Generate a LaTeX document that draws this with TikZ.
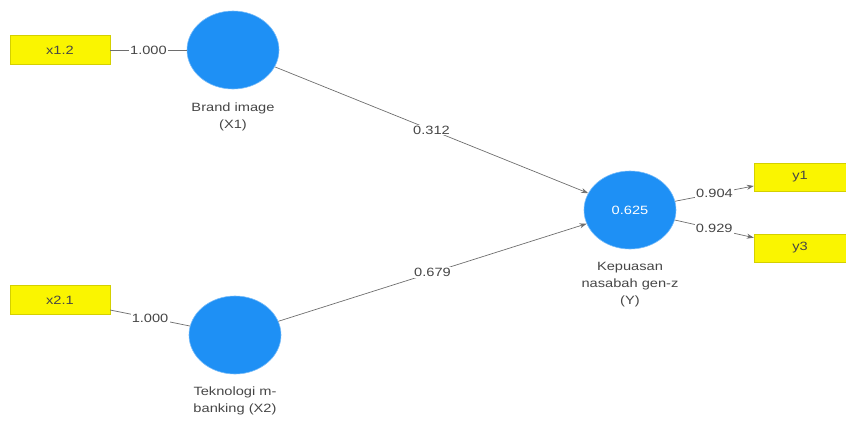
\documentclass[tikz,border=0pt]{standalone}
\usepackage{fontspec}
\setmainfont{Liberation Sans}[FakeStretch=1.22]
\usetikzlibrary{shapes.geometric,arrows.meta}
\definecolor{lvblue}{RGB}{30,144,245}
\definecolor{indyellow}{RGB}{250,245,0}
\definecolor{edgegray}{RGB}{110,110,110}
\definecolor{txtgray}{RGB}{70,70,70}
\begin{document}
\begin{tikzpicture}[x=1pt,y=-1pt,
  every node/.style={font=\fontsize{12}{14}\selectfont, text=txtgray},
  latent/.style={ellipse, fill=lvblue, draw=lvblue!60, line width=0.6pt, minimum width=92pt, minimum height=78pt, inner sep=0pt},
  indicator/.style={rectangle, fill=indyellow, draw=indyellow!85!black, line width=0.4pt, minimum width=100pt, minimum height=29pt, inner sep=0pt},
  ylabel/.style={align=center, font=\fontsize{12}{17}\selectfont},
  conn/.style={draw=edgegray, line width=0.7pt},
  arr/.style={conn, -{Stealth[length=7pt,width=5pt]}, shorten >=0pt},
  wlab/.style={fill=white, inner sep=1.2pt, text=txtgray}
]
\useasboundingbox (0,0) rectangle (846,421);

% indicators
\node[indicator] (x12) at (60,50) {x1.2};
\node[indicator] (x21) at (60,300) {x2.1};
\node[indicator, minimum width=92pt, minimum height=28pt] (y1) at (800,177) {y1};
\node[indicator, minimum width=92pt, minimum height=28pt] (y3) at (800,248) {y3};

% latent variables
\node[latent] (X1) at (233,50) {};
\node[latent] (X2) at (235,335) {};
\node[latent] (Y) at (630,210) {\textcolor{white}{0.625}};

% labels under latent variables
\node[ylabel] (lX1) at (233,117) {Brand image\\(X1)};
\node[ylabel] (lX2) at (235,401) {Teknologi m-\\banking (X2)};
\node[ylabel] (lY) at (630,285) {Kepuasan\\nasabah gen-z\\(Y)};

% connectors
\draw[conn] (x12) -- node[wlab] {1.000} (X1);
\draw[conn] (x21) -- node[wlab] {1.000} (X2);
\draw[arr] (X1) -- node[wlab] {0.312} (Y);
\draw[arr] (X2) -- node[wlab] {0.679} (Y);
\draw[arr] (Y) -- node[wlab] {0.904} (y1);
\draw[arr] (Y) -- node[wlab] {0.929} (y3);
\end{tikzpicture}
\end{document}
